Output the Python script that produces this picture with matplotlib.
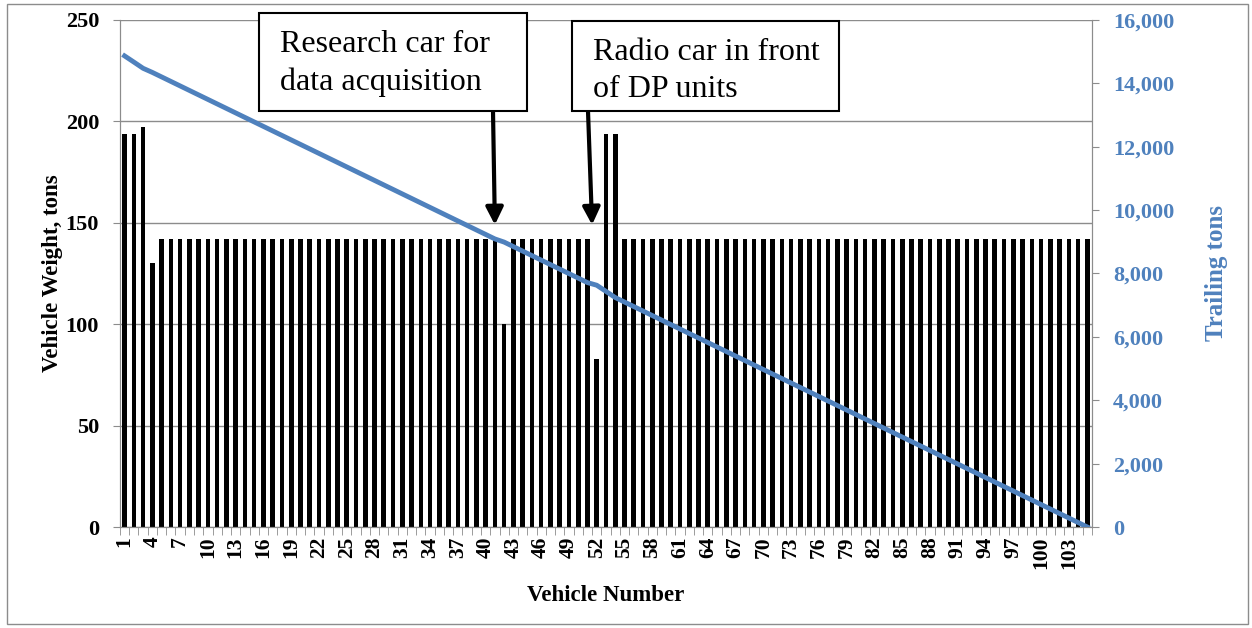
import matplotlib.pyplot as plt
from matplotlib.patches import Rectangle
from matplotlib.ticker import FuncFormatter, FixedLocator

plt.rcParams['font.family'] = ['Liberation Serif', 'DejaVu Serif']

# car weights in tons, front of the train first
vehicle_weight = ([194, 194, 197, 130] + [142] * 37 + [100] + [142] * 9
                  + [83, 194, 194] + [142] * 51)
vehicle_number = list(range(1, len(vehicle_weight) + 1))

# tons trailing behind each vehicle
trailing_tons = [
    14866, 14672, 14475, 14345, 14203, 14061, 13919, 13777, 13635, 13493,
    13351, 13209, 13067, 12925, 12783, 12641, 12499, 12357, 12215, 12073,
    11931, 11789, 11647, 11505, 11363, 11221, 11079, 10937, 10795, 10653,
    10511, 10369, 10227, 10085, 9943, 9801, 9659, 9517, 9375, 9233,
    9091, 8991, 8849, 8707, 8565, 8423, 8281, 8139, 7997, 7855,
    7713, 7630, 7436, 7242, 7100, 6958, 6816, 6674, 6532, 6390,
    6248, 6106, 5964, 5822, 5680, 5538, 5396, 5254, 5112, 4970,
    4828, 4686, 4544, 4402, 4260, 4118, 3976, 3834, 3692, 3550,
    3408, 3266, 3124, 2982, 2840, 2698, 2556, 2414, 2272, 2130,
    1988, 1846, 1704, 1562, 1420, 1278, 1136, 994, 852, 710,
    568, 426, 284, 142, 0,
]

tick_labels = list(range(1, len(vehicle_weight) + 1, 3))

notes = ["Research car for\ndata acquisition", "Radio car in front\nof DP units"]
note_targets = [41, 51.5]

GRAY = '#8c8c8c'
BLUE = '#4f81bd'

fig = plt.figure(figsize=(12.52, 6.28), dpi=100)
ax = fig.add_axes([0.0958, 0.1608, 0.7764, 0.8074])
ax2 = ax.twinx()

ax.bar(vehicle_number, vehicle_weight, width=0.5, color='black', zorder=2)
ax.set_xlim(0.5, len(vehicle_weight) + 0.5)
ax.set_ylim(0, 250)
ax.set_yticks(range(0, 251, 50))
ax.yaxis.grid(True, color=GRAY, lw=1, zorder=0)
ax.set_axisbelow(True)

ax2.plot(vehicle_number, trailing_tons, color=BLUE, lw=3.5, zorder=3)
ax2.set_ylim(0, 16000)
ax2.set_yticks(range(0, 16001, 2000))
ax2.yaxis.set_major_formatter(FuncFormatter(lambda v, p: f"{int(v):,}"))

for a in (ax, ax2):
    a.spines['top'].set_visible(False)
    for s in ('left', 'right', 'bottom'):
        a.spines[s].set_color(GRAY)

ax.set_xticks(tick_labels)
ax.set_xticklabels([str(t) for t in tick_labels], rotation=90,
                   fontsize=15.5, fontweight='bold')
ax.xaxis.set_minor_locator(FixedLocator(
    [i + 0.5 for i in range(len(vehicle_weight) + 1)]))
ax.tick_params(axis='x', which='major', length=0, pad=7)
ax.tick_params(axis='x', which='minor', length=6, color=GRAY)
ax.tick_params(axis='y', length=5, color=GRAY, labelsize=16, pad=10)
for lbl in ax.get_yticklabels():
    lbl.set_fontweight('bold')
ax2.tick_params(axis='y', length=5, color=GRAY, labelsize=16,
                labelcolor=BLUE, pad=10)
for lbl in ax2.get_yticklabels():
    lbl.set_fontweight('bold')

ax.set_xlabel("Vehicle Number", fontsize=16.5, fontweight='bold', labelpad=11)
ax.set_ylabel("Vehicle Weight, tons", fontsize=16.5, fontweight='bold',
              labelpad=2)
ax2.set_ylabel("Trailing tons", fontsize=18, fontweight='bold',
               color=BLUE, labelpad=22)

# callout boxes (figure pixels, origin bottom-left)
boxes = [(259, 517, 268, 98), (572, 517, 267, 90)]
for (x0, y0, w, h), text in zip(boxes, notes):
    fig.patches.append(Rectangle((x0, y0), w, h, transform=None,
                                 fill=True, facecolor='white',
                                 edgecolor='black', lw=1.5, zorder=5))
    fig.text((x0 + 21) / 1252, (y0 + h - 17) / 628, text, fontsize=23,
             va='top', ha='left', linespacing=1.38, zorder=6)

arrow_starts = [(493, 517), (588, 517)]
for start, target in zip(arrow_starts, note_targets):
    ax.annotate('', xy=(target, 149), xycoords='data',
                xytext=start, textcoords='figure pixels',
                arrowprops=dict(arrowstyle='-|>', lw=3, color='black',
                                mutation_scale=26, shrinkA=0, shrinkB=0),
                zorder=6)

# outer chart frame
fig.patches.append(Rectangle((7, 4), 1241, 620, transform=None, fill=False,
                             edgecolor=GRAY, lw=1))

fig.savefig('out.png', dpi=100)
